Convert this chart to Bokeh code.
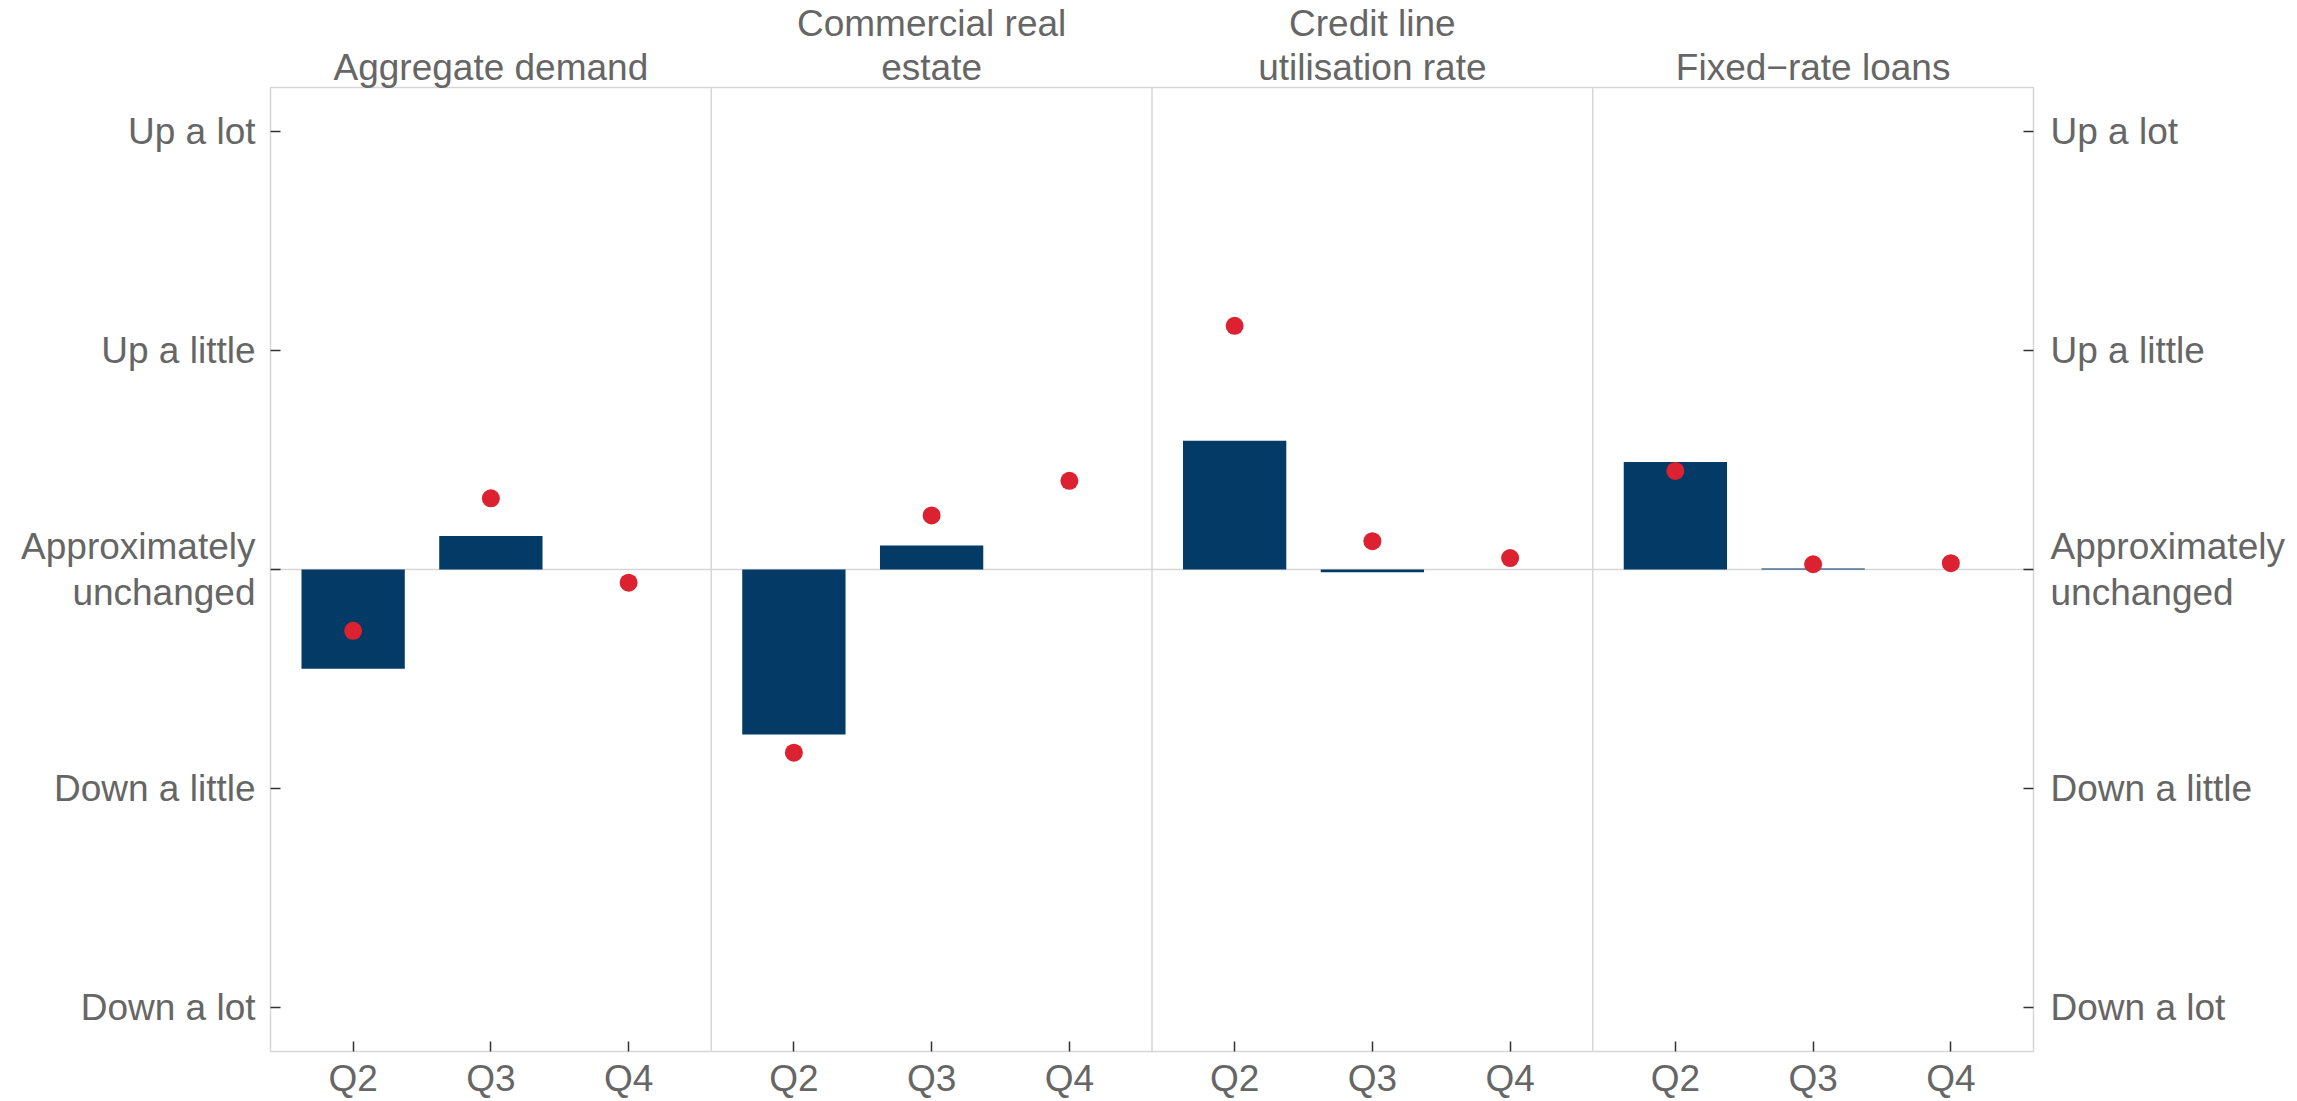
from bokeh.plotting import figure
from bokeh.models import (FactorRange, Range1d, LinearAxis, CategoricalAxis, FixedTicker,
                          Span, ColumnDataSource)
from bokeh.embed import file_html
from bokeh.resources import INLINE

# ---- data ----
panels = ["Aggregate demand", "Commercial real estate", "Credit line utilisation rate", "Fixed-rate loans"]
panel_titles = ["Aggregate demand", "Commercial real\nestate", "Credit line\nutilisation rate", "Fixed\u2212rate loans"]
quarters = ["Q2", "Q3", "Q4"]
bar_values = {
    "Aggregate demand": [-0.453, 0.153, 0.0],
    "Commercial real estate": [-0.753, 0.109, 0.0],
    "Credit line utilisation rate": [0.588, -0.012, 0.0],
    "Fixed-rate loans": [0.491, 0.005, 0.0],
}
dot_values = {
    "Aggregate demand": [-0.28, 0.325, -0.06],
    "Commercial real estate": [-0.836, 0.247, 0.405],
    "Credit line utilisation rate": [1.112, 0.129, 0.052],
    "Fixed-rate loans": [0.45, 0.024, 0.029],
}
y_ticks = [-2, -1, 0, 1, 2]
y_tick_labels = ["Down a lot", "Down a little", "Approximately\nunchanged", "Up a little", "Up a lot"]

# ---- style ----
BAR = "#033B66"
DOT = "#DC2130"
TXT = "#666666"
FRAME = "#d6d6d6"
FONT = "Liberation Sans"
FS = "37px"
GROUP_PAD = 0.2

xs, bars, dots = [], [], []
for pn in panels:
    for i, q in enumerate(quarters):
        xs.append((pn, q))
        bars.append(bar_values[pn][i])
        dots.append(dot_values[pn][i])
src = ColumnDataSource(dict(x=xs, bar=bars, dot=dots))

x_range = FactorRange(*xs, factor_padding=0.0, group_padding=GROUP_PAD,
                      range_padding=GROUP_PAD / 2, range_padding_units="absolute")

p = figure(width=2297, height=1101, x_range=x_range, y_range=Range1d(-2.2, 2.2),
           output_backend="svg", toolbar_location=None,
           min_border_left=270, min_border_right=264, min_border_top=85, min_border_bottom=49)
p.background_fill_color = "white"
p.border_fill_color = "white"
p.outline_line_color = FRAME
p.outline_line_width = 1.5
p.xgrid.grid_line_color = None
p.ygrid.grid_line_color = None

# x axis (bottom, nested factors: only quarter labels shown)
xa = p.below[0]
xa.axis_line_color = None
xa.major_tick_in = 10
xa.major_tick_out = 0
xa.major_tick_line_color = "#333333"
xa.major_tick_line_width = 1.5
xa.major_label_text_font = FONT
xa.major_label_text_font_size = FS
xa.major_label_text_color = TXT
xa.major_label_standoff = 6
xa.group_text_font_size = "0px"
xa.group_text_color = None
xa.separator_line_color = None

# panel title axis (one equal-width factor per panel)
p.extra_x_ranges = {"panels": FactorRange(*panel_titles, factor_padding=0.0, range_padding=0.0)}
ta = CategoricalAxis(x_range_name="panels")
p.add_layout(ta, "above")
ta.axis_line_color = None
ta.major_tick_line_color = None
ta.major_tick_in = 0
ta.major_tick_out = 0
ta.major_label_standoff = 0
ta.major_label_text_font = FONT
ta.major_label_text_font_size = FS
ta.major_label_text_color = TXT
ta.major_label_text_line_height = 1.05

# zero line
p.add_layout(Span(location=0, dimension="width", line_color=FRAME, line_width=1.5, level="underlay"))

# panel dividers
div_x = [(pn, quarters[-1], 0.5 + GROUP_PAD / 2) for pn in panels[:-1]]
p.segment(x0=div_x, x1=div_x, y0=[-2.2] * len(div_x), y1=[2.2] * len(div_x),
          line_color=FRAME, line_width=1.5)

p.vbar(x="x", top="bar", bottom=0, width=0.75, source=src, fill_color=BAR, line_color=None)
p.scatter(x="x", y="dot", source=src, size=18, fill_color=DOT, line_color=None)

# y axes
overrides = {t: lab for t, lab in zip(y_ticks, y_tick_labels)}
ya = p.left[0]
ra = LinearAxis()
p.add_layout(ra, "right")
for ax in (ya, ra):
    ax.ticker = FixedTicker(ticks=y_ticks)
    ax.major_label_overrides = overrides
    ax.axis_line_color = None
    ax.major_tick_in = 10
    ax.major_tick_out = 0
    ax.major_tick_line_color = "#333333"
    ax.major_tick_line_width = 1.5
    ax.minor_tick_line_color = None
    ax.major_label_text_font = FONT
    ax.major_label_text_font_size = FS
    ax.major_label_text_color = TXT
    ax.major_label_text_line_height = 1.1
ya.major_label_standoff = 15
ra.major_label_standoff = 17

open("out.html", "w").write(file_html(p, INLINE))
